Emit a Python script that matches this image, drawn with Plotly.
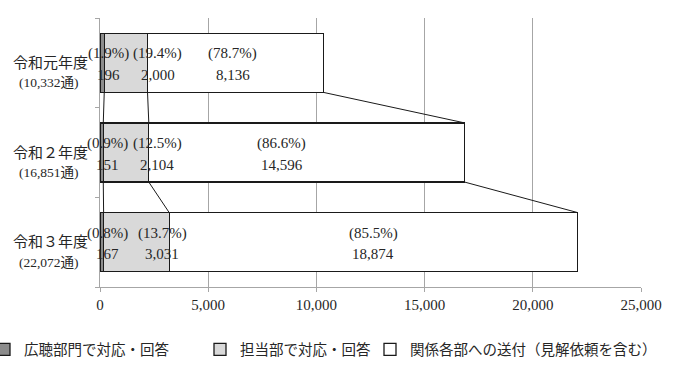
import plotly.graph_objects as go

# ---- data ----
categories = ["令和元年度", "令和２年度", "令和３年度"]
total_labels = ["(10,332通)", "(16,851通)", "(22,072通)"]
series_names = ["広聴部門で対応・回答", "担当部で対応・回答", "関係各部への送付（見解依頼を含む）"]
koucho = [196, 151, 167]
tantou = [2000, 2104, 3031]
soufu = [8136, 14596, 18874]
pct_koucho = ["1.9%", "0.9%", "0.8%"]
pct_tantou = ["19.4%", "12.5%", "13.7%"]
pct_soufu = ["78.7%", "86.6%", "85.5%"]
x_tickvals = [0, 5000, 10000, 15000, 20000, 25000]
x_ticktext = ["0", "5,000", "10,000", "15,000", "20,000", "25,000"]

# ---- styles ----
FONT = "Liberation Serif, Noto Sans CJK JP, serif"
TXT = "#262626"
GRID = "#a6a6a6"
colors = ["#8c8c8c", "#d9d9d9", "#ffffff"]
BAR_W = 0.66
label_xshift = [[6, 6, 6], [32, 31, 26], [-3, -25, 0]]

ypos = list(range(len(categories)))
series = [koucho, tantou, soufu]
pcts = [pct_koucho, pct_tantou, pct_soufu]
legends = ["legend", "legend2", "legend3"]

fig = go.Figure()
for k, vals in enumerate(series):
    fig.add_trace(go.Bar(
        y=ypos, x=vals, orientation="h", width=BAR_W, name=series_names[k],
        marker=dict(color=colors[k], line=dict(color="#1a1a1a", width=1.3)),
        legend=legends[k], hoverinfo="skip",
    ))

# cumulative ends and series connector lines
cums = []
run = [0] * len(categories)
for vals in series:
    run = [r + v for r, v in zip(run, vals)]
    cums.append(run[:])

for k in range(len(series)):
    xs, ys = [], []
    for i in range(len(categories) - 1):
        xs += [cums[k][i], cums[k][i + 1], None]
        ys += [ypos[i] + BAR_W / 2, ypos[i + 1] - BAR_W / 2, None]
    fig.add_trace(go.Scatter(x=xs, y=ys, mode="lines", showlegend=False,
                             line=dict(color="#1a1a1a", width=1), hoverinfo="skip"))

annotations = []
for k in range(len(series)):
    for i in range(len(categories)):
        start = cums[k][i] - series[k][i]
        mid = (start + cums[k][i]) / 2
        annotations.append(dict(x=mid, y=ypos[i], xref="x", yref="y", text=f"({pcts[k][i]})",
                                showarrow=False, xshift=label_xshift[k][i], yshift=9,
                                font=dict(family=FONT, size=15, color=TXT)))
        annotations.append(dict(x=mid, y=ypos[i], xref="x", yref="y", text=f"{series[k][i]:,}",
                                showarrow=False, xshift=label_xshift[k][i], yshift=-12,
                                font=dict(family=FONT, size=15, color=TXT)))

for i in range(len(categories)):
    annotations.append(dict(x=-0.092, y=ypos[i], xref="paper", yref="y", text=categories[i],
                            showarrow=False, xanchor="center", yshift=0,
                            font=dict(family=FONT, size=15, color=TXT)))
    annotations.append(dict(x=-0.094, y=ypos[i], xref="paper", yref="y", text=total_labels[i],
                            showarrow=False, xanchor="center", yshift=-20,
                            font=dict(family=FONT, size=13.5, color=TXT)))

legend_style = dict(orientation="h", yanchor="middle", y=-0.232, xanchor="left",
                    font=dict(family=FONT, size=14.5, color=TXT), bgcolor="rgba(0,0,0,0)",
                    itemwidth=30, tracegroupgap=0)

fig.update_layout(
    width=684, height=378,
    margin=dict(l=100, r=43, t=18, b=91, autoexpand=False),
    paper_bgcolor="white", plot_bgcolor="white",
    barmode="stack",
    font=dict(family=FONT, size=14, color=TXT),
    xaxis=dict(range=[0, 25000], tickvals=x_tickvals, ticktext=x_ticktext,
               showgrid=True, gridcolor=GRID, gridwidth=1, zeroline=False,
               showline=True, linecolor=GRID, linewidth=1,
               ticks="outside", ticklen=4, tickcolor=GRID,
               tickfont=dict(family=FONT, size=15, color=TXT)),
    yaxis=dict(range=[2.5, -0.5], tickvals=[-0.5, 0.5, 1.5, 2.5], showticklabels=False,
               showgrid=False, zeroline=False, showline=True, linecolor=GRID, linewidth=1,
               ticks="outside", ticklen=4, tickcolor=GRID),
    annotations=annotations,
    legend=dict(legend_style, x=(-16 - 100) / 541),
    legend2=dict(legend_style, x=(200 - 100) / 541),
    legend3=dict(legend_style, x=(370 - 100) / 541),
    showlegend=True,
)

fig.write_html("out.html", config={"displayModeBar": False},
               post_script="document.body.style.margin='0';")
